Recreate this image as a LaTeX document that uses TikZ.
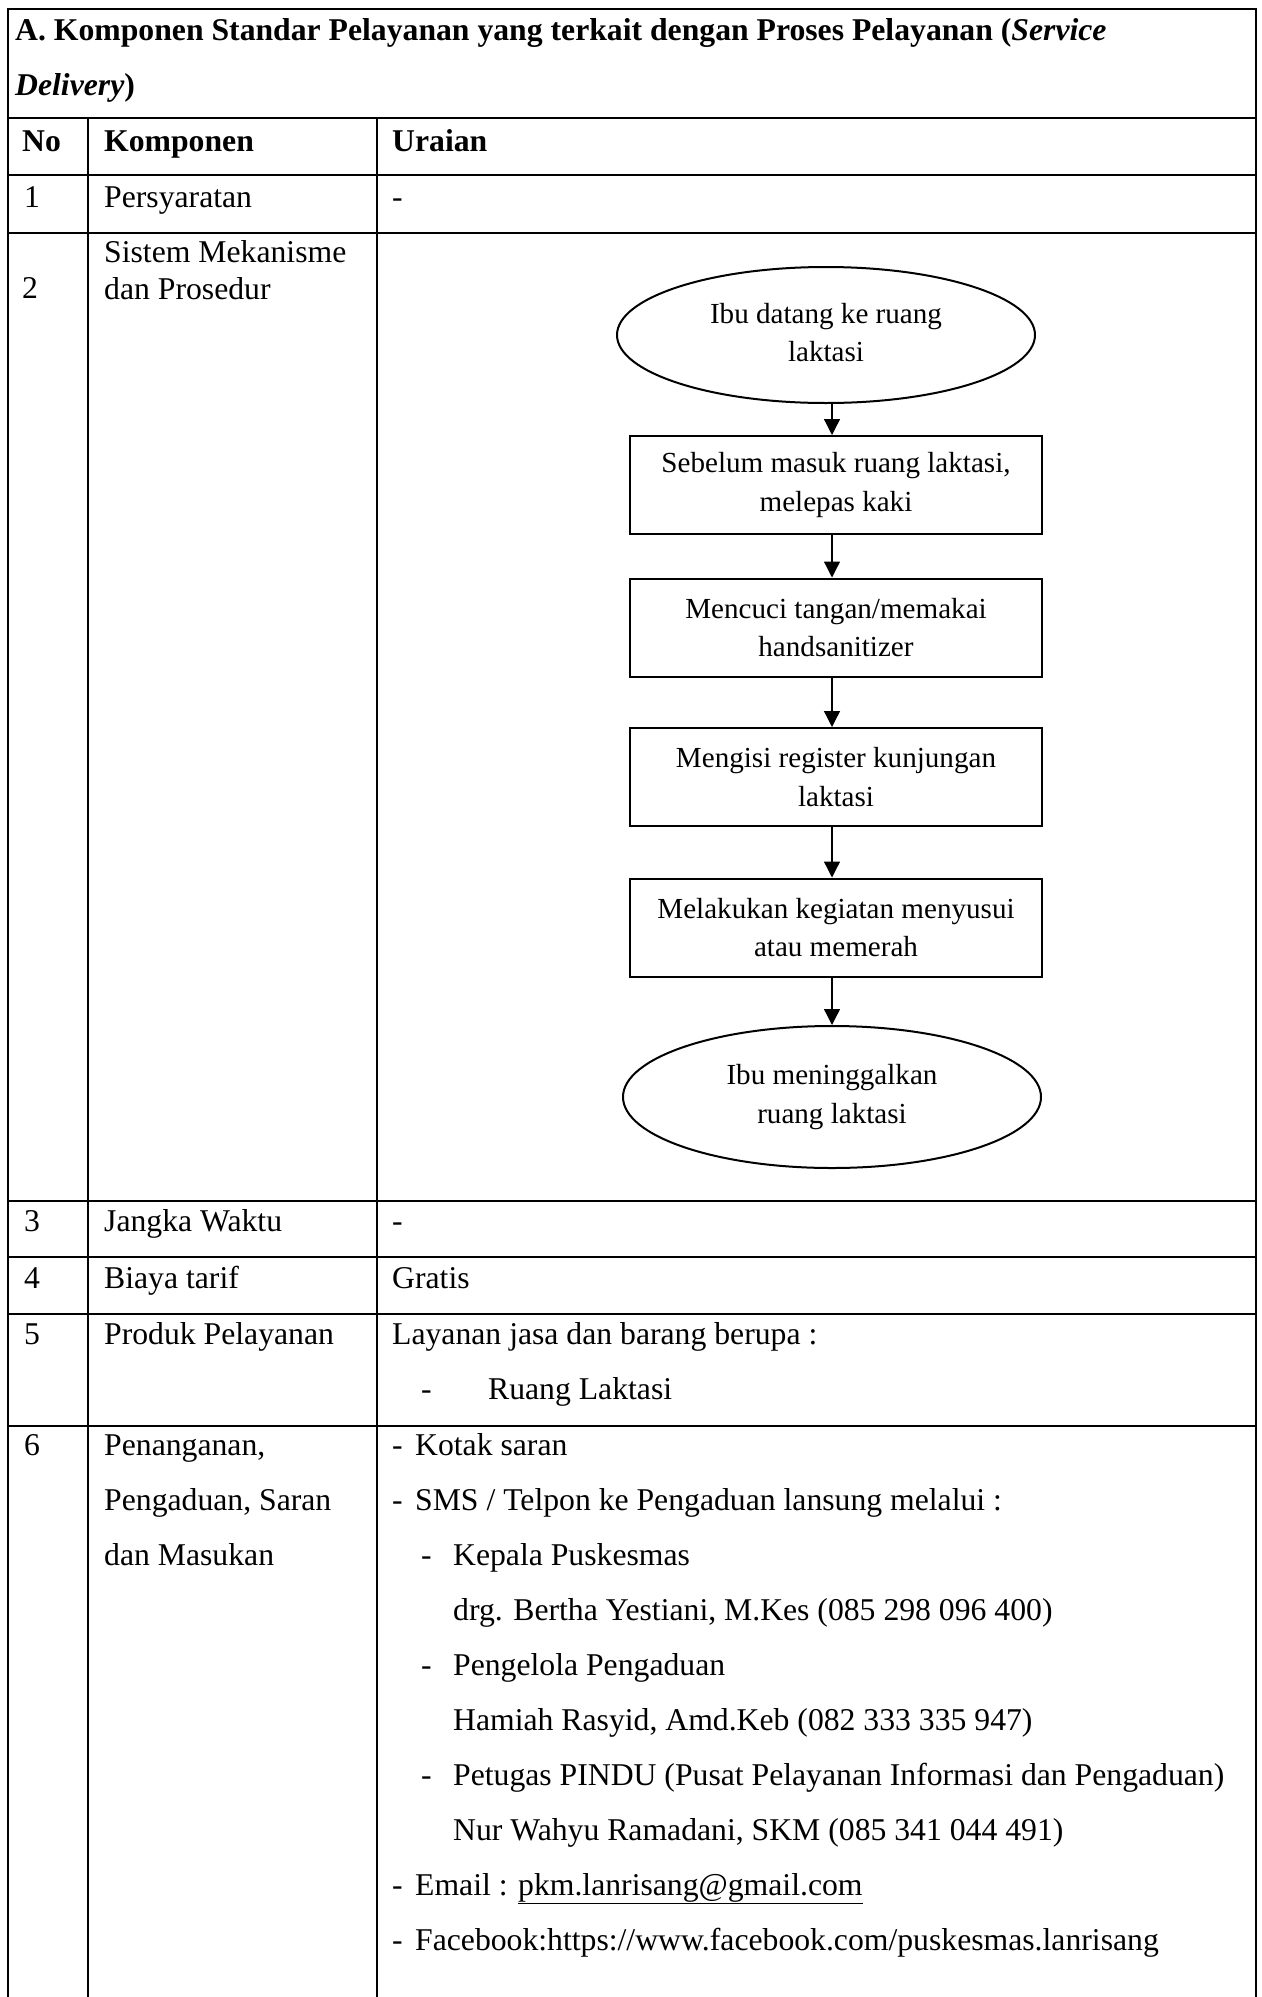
\documentclass[tikz,border=0pt]{standalone}
\usepackage{fontspec}
\setmainfont{Liberation Serif}
\usetikzlibrary{shapes.geometric,arrows.meta}
\begin{document}
\begin{tikzpicture}[x=1pt,y=-1pt,
  txt/.style={anchor=base west,inner sep=0pt,font=\fontsize{31.7}{37}\selectfont},
  hd/.style={anchor=base west,inner sep=0pt,font=\fontsize{31.7}{37}\selectfont\bfseries},
  grid/.style={line width=2pt},
  fbox/.style={draw,line width=2pt,minimum width=412pt,minimum height=98pt,inner sep=0pt,align=center,font=\fontsize{29.1}{38.5}\selectfont},
  fell/.style={fbox,ellipse,minimum width=418pt,minimum height=136pt},
  flow/.style={line width=1.3pt,-{Triangle[length=16pt,width=16pt]}}]
\useasboundingbox (0,0) rectangle (1261,1997);
\fill[white] (0,0) rectangle (1261,1997);
% grid
\draw[grid] (8,1997) -- (8,9) -- (1256,9) -- (1256,1997);
\foreach \yy in {118,175,233,1201,1257,1314,1426} \draw[grid] (8,\yy) -- (1256,\yy);
\draw[grid] (88,118) -- (88,1997);
\draw[grid] (377,118) -- (377,1997);
% heading
\node[hd] (h1) at (15,40) {A. Komponen Standar Pelayanan yang terkait dengan Proses Pelayanan (\textit{Service}};
\node[hd] (h2) at (15,95) {\textit{Delivery})};
\node[hd] (hno) at (22,151) {No};
\node[hd] (hkomp) at (104,151) {Komponen};
\node[hd] (hur) at (392,151) {Uraian};
% row 1
\node[txt] (n1) at (24,207) {1};
\node[txt] (k1) at (104,207) {Persyaratan};
\node[txt] (u1) at (392,207) {-};
% row 2
\node[txt] (n2) at (22,298) {2};
\node[txt] (k2a) at (104,262) {Sistem Mekanisme};
\node[txt] (k2b) at (104,299) {dan Prosedur};
% row 3
\node[txt] (n3) at (24,1231) {3};
\node[txt] (k3) at (104,1231) {Jangka Waktu};
\node[txt] (u3) at (392,1231) {-};
% row 4
\node[txt] (n4) at (24,1288) {4};
\node[txt] (k4) at (104,1288) {Biaya tarif};
\node[txt] (u4) at (392,1288) {Gratis};
% row 5
\node[txt] (n5) at (24,1344) {5};
\node[txt] (k5) at (104,1344) {Produk Pelayanan};
\node[txt] (u5a) at (392,1344) {Layanan jasa dan barang berupa :};
\node[txt] (u5b) at (421,1399) {-\hspace{56.4pt}Ruang Laktasi};
% row 6
\node[txt] (n6) at (24,1455) {6};
\node[txt] (k6a) at (104,1455) {Penanganan,};
\node[txt] (k6b) at (104,1510) {Pengaduan, Saran};
\node[txt] (k6c) at (104,1565) {dan Masukan};
\node[txt] (u6a) at (392,1455) {-\hspace{12.4pt}Kotak saran};
\node[txt] (u6b) at (392,1510) {-\hspace{12.4pt}SMS / Telpon ke Pengaduan lansung melalui :};
\node[txt] (u6c) at (421,1565) {-\hspace{21.4pt}Kepala Puskesmas};
\node[txt] (u6d) at (453,1620) {drg. Bertha Yestiani, M.Kes (085 298 096 400)};
\node[txt] (u6e) at (421,1675) {-\hspace{21.4pt}Pengelola Pengaduan};
\node[txt] (u6f) at (453,1730) {Hamiah Rasyid, Amd.Keb (082 333 335 947)};
\node[txt] (u6g) at (421,1785) {-\hspace{21.4pt}Petugas PINDU (Pusat Pelayanan Informasi dan Pengaduan)};
\node[txt] (u6h) at (453,1840) {Nur Wahyu Ramadani, SKM (085 341 044 491)};
\node[txt] (u6i) at (392,1895) {-\hspace{12.4pt}Email : \underline{pkm.lanrisang@gmail.com}};
\node[txt] (u6j) at (392,1950) {-\hspace{12.4pt}Facebook:https://www.facebook.com/puskesmas.lanrisang};
% flowchart
\node[fell] (e1) at (826,335) {\raisebox{5pt}{\begin{tabular}{@{}c@{}}Ibu datang ke ruang\\laktasi\end{tabular}}};
\node[fbox] (b1) at (836,485) {Sebelum masuk ruang laktasi,\\melepas kaki};
\node[fbox] (b2) at (836,627.5) {Mencuci tangan/memakai\\handsanitizer};
\node[fbox] (b3) at (836,777) {Mengisi register kunjungan\\laktasi};
\node[fbox] (b4) at (836,927.5) {Melakukan kegiatan menyusui\\atau memerah};
\node[fell,minimum height=142pt] (e2) at (832,1097) {Ibu meninggalkan\\ruang laktasi};
\draw[flow] ([xshift=6pt]e1.south) -- ([xshift=-4pt]b1.north);
\draw[flow] ([xshift=-4pt]b1.south) -- ([xshift=-4pt]b2.north);
\draw[flow] ([xshift=-4pt]b2.south) -- ([xshift=-4pt]b3.north);
\draw[flow] ([xshift=-4pt]b3.south) -- ([xshift=-4pt]b4.north);
\draw[flow] ([xshift=-4pt]b4.south) -- (e2.north);
\end{tikzpicture}
\end{document}
